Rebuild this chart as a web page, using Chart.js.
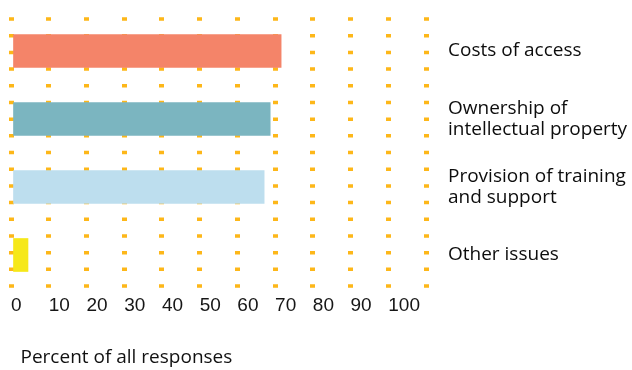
<!DOCTYPE html>
<html>
<head>
<meta charset="utf-8">
<script src="https://cdn.jsdelivr.net/npm/chart.js@4/dist/chart.umd.min.js"></script>
<style>
  html, body { margin: 0; padding: 0; background: #ffffff; }
  #c { display: block; }
</style>
</head>
<body>
<canvas id="c" width="632" height="370"></canvas>
<script>
// ---- data ----
const categories = [
  "Costs of access",
  ["Ownership of", "intellectual property"],
  ["Provision of training", "and support"],
  "Other issues"
];
const percentValues = [71.6, 68.7, 67.1, 4.5];
const barColors = ["#F48469", "#7BB5C0", "#BDDEEE", "#F6E819"];
const xTickValues = [0, 10, 20, 30, 40, 50, 60, 70, 80, 90, 100];
const xAxisTitle = "\u2002Percent of all responses";

const dotColor = "#FDB719";

new Chart(document.getElementById("c"), {
  type: "bar",
  data: {
    labels: categories,
    datasets: [{
      data: percentValues,
      backgroundColor: barColors,
      borderWidth: 0,
      barThickness: 33
    }]
  },
  options: {
    indexAxis: "y",
    responsive: false,
    animation: false,
    devicePixelRatio: 1,
    layout: { padding: { left: 11, top: 17, right: 0, bottom: 0 } },
    plugins: { legend: { display: false }, tooltip: { enabled: false } },
    scales: {
      x: {
        type: "linear",
        position: "bottom",
        min: 0,
        max: 110,
        ticks: {
          stepSize: 10,
          align: "start",
          padding: 5,
          color: "#161616",
          font: { family: "'Liberation Sans', Arial, sans-serif", size: 19 },
          callback: (v) => xTickValues.includes(v) ? String(v) : ""
        },
        grid: {
          color: dotColor,
          lineWidth: 5,
          drawTicks: false
        },
        border: { display: false, dash: [3.5, 13.19], dashOffset: -0.25 },
        title: {
          display: true,
          text: xAxisTitle,
          align: "start",
          color: "#111111",
          font: { family: "'Open Sans', sans-serif", size: 19 },
          padding: { top: 0, bottom: 1 }
        },
        afterFit: (s) => { s.height = 81; s.paddingLeft = 0; s.paddingRight = 0; }
      },
      y: {
        position: "right",
        grid: { display: false, drawTicks: false },
        border: { display: false },
        ticks: {
          padding: 22,
          crossAlign: "near",
          color: "#0d0d0d",
          font: { family: "'Open Sans', sans-serif", size: 19, lineHeight: 1.07 }
        },
        afterFit: (s) => { s.width = 206; s.paddingTop = 0; s.paddingBottom = 0; }
      }
    }
  }
});
</script>
</body>
</html>
